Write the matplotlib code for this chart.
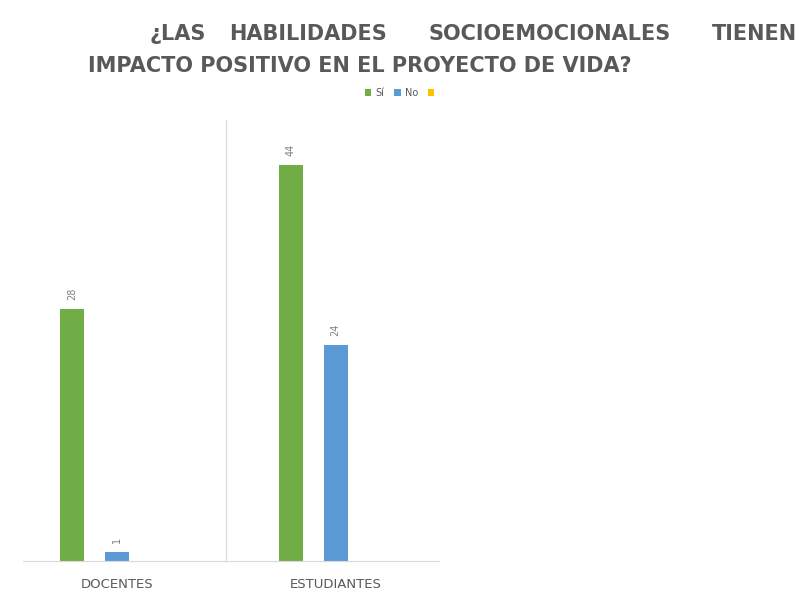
import matplotlib.pyplot as plt
import numpy as np

# Data
categorias = ['DOCENTES', 'ESTUDIANTES']
serie_si = [28, 44]
serie_no = [1, 24]
serie_otro = [0, 0]
nombres = ['Sí', 'No', ' ']
colores = ['#70AD47', '#5B9BD5', '#FFC000']

gris = '#595959'
plt.rcParams['font.family'] = ['DejaVu Sans']

fig = plt.figure(figsize=(8.06, 5.92), dpi=100)
ax = fig.add_axes([0.0093, 0.0524, 0.543, 0.745])

x = np.arange(len(categorias))
ancho = 0.11
desp = 0.205
for i, (vals, nom, col) in enumerate(zip([serie_si, serie_no, serie_otro], nombres, colores)):
    pos = x + (i - 1) * desp
    barras = ax.bar(pos, vals, width=ancho, color=col, label=nom)
    if i < 2:
        for b, v in zip(barras, vals):
            ax.text(b.get_x() + b.get_width() / 2, v + 1.0, str(v), rotation=90,
                    ha='center', va='bottom', fontsize=7, color='#7f7f7f')

ax.set_xlim(-0.5, 1.5)
ax.set_ylim(0, 49)
ax.set_yticks([])
ax.set_xticks(x)
ax.set_xticklabels(categorias, fontsize=9.5, color=gris)
ax.tick_params(axis='x', length=0, pad=12)
for s in ['top', 'right', 'left']:
    ax.spines[s].set_visible(False)
ax.spines['bottom'].set_color('#d9d9d9')
ax.spines['bottom'].set_bounds(-0.43, 1.47)
ax.axvline(0.5, color='#e0e0e0', lw=1)

leg = fig.legend(loc='center', bbox_to_anchor=(0.5, 1 - 93 / 592), ncol=3, frameon=False,
                 fontsize=7, handlelength=0.7, handleheight=0.7, columnspacing=1.0,
                 handletextpad=0.4)
for t in leg.get_texts():
    t.set_color(gris)

# Title (first line justified word by word)
linea1 = ['¿LAS', 'HABILIDADES', 'SOCIOEMOCIONALES', 'TIENEN']
inicios = [150, 229, 429, 712]
for palabra, x0 in zip(linea1, inicios):
    fig.text(x0 / 806, 1 - 34 / 592, palabra, fontsize=15, fontweight='bold',
             color=gris, ha='left', va='center')
fig.text(88 / 806, 1 - 66 / 592, 'IMPACTO POSITIVO EN EL PROYECTO DE VIDA?', fontsize=15,
         fontweight='bold', color=gris, ha='left', va='center')

fig.savefig('out.png', dpi=100, facecolor='white')
